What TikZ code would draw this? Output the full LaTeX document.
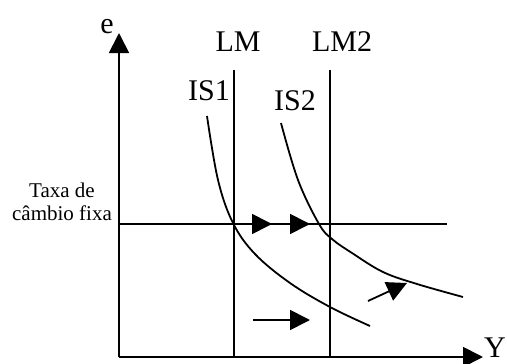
\documentclass[tikz,border=0pt]{standalone}
\usepackage{fontspec}
\setmainfont{Liberation Serif}
\usetikzlibrary{arrows.meta}
\tikzset{
  seta/.style={-{Triangle[length=20pt,width=20pt]}},
  rotulo/.style={font=\fontsize{30}{36}\selectfont, anchor=base, inner sep=0pt},
  nota/.style={font=\fontsize{21}{23}\selectfont, anchor=base, inner sep=0pt, align=center}
}
\begin{document}
\begin{tikzpicture}[x=1pt, y=-1pt, line width=1.8pt]
\useasboundingbox (0,0) rectangle (507,364);
% eixos
\coordinate (O) at (119,357);
\coordinate (topo) at (119,33);
\coordinate (dir) at (483,357);
\draw[seta] (O) -- (topo);
\draw[seta] (O) -- (dir);
\node[rotulo] (e) at (107,33) {e};
\node[rotulo] (Y) at (495,357) {Y};
% curvas LM
\draw (234,70) -- (234,357);
\draw (330,70) -- (330,357);
\node[rotulo] (LM) at (238,52) {LM};
\node[rotulo] (LM2) at (342,52) {LM2};
% taxa de cambio fixa
\draw (119,224) -- (447,224);
\node[nota] (taxa) at (62,220) {Taxa de\\câmbio fixa};
% curvas IS
\draw plot[smooth, tension=0.6] coordinates {(207,116) (218,180) (233,223) (255,254) (290,283) (330,307) (370,326)};
\draw plot[smooth, tension=0.6] coordinates {(281,123) (298,180) (319,224) (332,239) (352,253) (383,272) (417,284) (463,297)};
\node[rotulo] (IS1) at (209,100) {IS1};
\node[rotulo] (IS2) at (295,110) {IS2};
% setas
\draw[seta] (256,224) -- (272,224);
\draw[seta] (294,224) -- (310,224);
\draw[seta] (253,320) -- (310,320);
\draw[seta] (368,301) -- (407,283);
\end{tikzpicture}
\end{document}
